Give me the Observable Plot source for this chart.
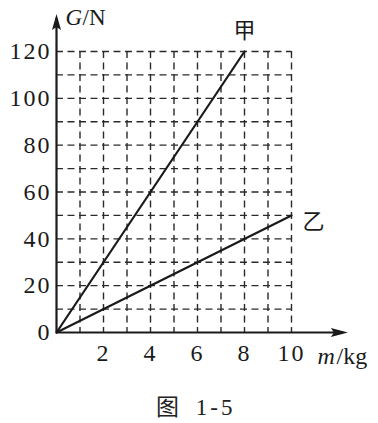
<!DOCTYPE html>
<html>
<head>
<meta charset="utf-8">
<script src="https://cdn.jsdelivr.net/npm/d3@7"></script>
<script src="https://cdn.jsdelivr.net/npm/@observablehq/plot@0.6"></script>
<style>
  html, body { margin: 0; padding: 0; background: #fff; }
  #caption {
    font-family: "Liberation Serif", "Noto Sans CJK SC", serif;
    font-size: 23px; line-height: 24px; color: #222;
    padding-left: 156px; margin-top: 11px; word-spacing: 5px; letter-spacing: 3px;
  }
</style>
</head>
<body>
<div id="chart"></div>
<div id="caption">图 1-5</div>
<script>
// Data
const massJia = [0, 8];        // m/kg
const weightJia = [0, 120];    // G/N
const massYi = [0, 10];
const weightYi = [0, 50];
const seriesNames = ["甲", "乙"];

const xTickValues = [2, 4, 6, 8, 10];
const yTickValues = [0, 20, 40, 60, 80, 100, 120];
const gridX = [1, 2, 3, 4, 5, 6, 7, 8, 9, 10];
const gridY = [10, 20, 30, 40, 50, 60, 70, 80, 90, 100, 110, 120];
const xMax = 10, yMax = 120;        // grid extent
const xArrow = 12.4, yArrow = 136;  // axis arrow tips

const jia = massJia.map((m, i) => ({m, G: weightJia[i]}));
const yi = massYi.map((m, i) => ({m, G: weightYi[i]}));

const ink = "#1a1a1a";
const serif = "Liberation Serif, Times New Roman, serif";
const cjk = "Noto Sans CJK SC, sans-serif";

const arrowUp = {draw(ctx) { ctx.moveTo(0, 0); ctx.lineTo(-4.5, 16); ctx.lineTo(0, 13); ctx.lineTo(4.5, 16); ctx.closePath(); }};
const arrowRight = {draw(ctx) { ctx.moveTo(0, 0); ctx.lineTo(-17, -4.5); ctx.lineTo(-14, 0); ctx.lineTo(-17, 4.5); ctx.closePath(); }};

const chart = Plot.plot({
  width: 378,
  height: 385,
  marginLeft: 56,
  marginRight: 87,
  marginTop: 51,
  marginBottom: 53,
  style: {fontFamily: serif, fontSize: "24px", color: ink, background: "#fff", overflow: "visible"},
  x: {domain: [0, xMax], label: null},
  y: {domain: [0, yMax], label: null},
  marks: [
    // dashed grid
    Plot.ruleX(gridX, {y1: yMax, y2: 0, stroke: "#2a2a2a", strokeWidth: 1.4, strokeDasharray: "7,4.5"}),
    Plot.ruleY(gridY, {x1: 0, x2: xMax, stroke: "#2a2a2a", strokeWidth: 1.4, strokeDasharray: "7,4.5"}),
    // axis tick labels
    Plot.axisX(xTickValues, {tickSize: 0, tickPadding: 11, label: null, fontSize: 24, fontFamily: serif, fill: ink, tickFormat: d => String(d)}),
    Plot.axisY(yTickValues, {tickSize: 0, tickPadding: 5, label: null, fontSize: 24, fontFamily: serif, fill: ink, tickFormat: d => String(d)}),
    // axes with arrows
    Plot.ruleX([0], {y1: 0, y2: yArrow - 2, stroke: ink, strokeWidth: 2.2}),
    Plot.ruleY([0], {x1: 0, x2: xArrow - 0.2, stroke: ink, strokeWidth: 2.2}),
    Plot.dot([{x: 0, y: yArrow}], {x: "x", y: "y", symbol: arrowUp, fill: ink, stroke: null}),
    Plot.dot([{x: xArrow, y: 0}], {x: "x", y: "y", symbol: arrowRight, fill: ink, stroke: null}),
    // lines
    Plot.line(jia, {x: "m", y: "G", stroke: ink, strokeWidth: 2.2}),
    Plot.line(yi, {x: "m", y: "G", stroke: ink, strokeWidth: 2.2}),
    // series labels
    Plot.text([jia[jia.length - 1]], {x: "m", y: "G", text: () => seriesNames[0], dy: -21, fontFamily: cjk, fontSize: 22, fill: ink}),
    Plot.text([yi[yi.length - 1]], {x: "m", y: "G", text: () => seriesNames[1], dx: 22, dy: 7, fontFamily: cjk, fontSize: 22, fill: ink}),
    // axis titles
    Plot.text([{x: 0, y: yArrow}], {x: "x", y: "y", text: () => "G", textAnchor: "start", dx: 9, dy: 4, fontStyle: "italic", fontFamily: serif, fontSize: 23, fill: ink}),
    Plot.text([{x: 0, y: yArrow}], {x: "x", y: "y", text: () => "/N", textAnchor: "start", dx: 26, dy: 4, fontFamily: serif, fontSize: 23, fill: ink}),
    Plot.text([{x: xMax, y: 0}], {x: "x", y: "y", text: () => "m", textAnchor: "start", dx: 26, dy: 24, fontStyle: "italic", fontFamily: serif, fontSize: 24, fill: ink}),
    Plot.text([{x: xMax, y: 0}], {x: "x", y: "y", text: () => "/kg", textAnchor: "start", dx: 45, dy: 24, fontFamily: serif, fontSize: 24, fill: ink})
  ]
});
// slightly wider digits, like the printed figure
chart.querySelectorAll('g[aria-label$="tick label"] text').forEach(t => t.setAttribute("letter-spacing", "2"));
document.getElementById("chart").appendChild(chart);
</script>
</body>
</html>
